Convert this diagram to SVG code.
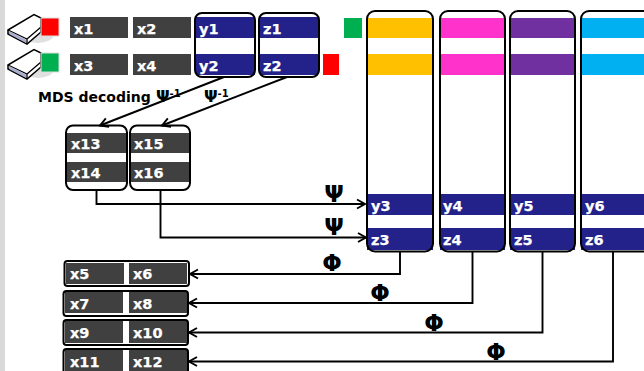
<svg xmlns="http://www.w3.org/2000/svg" width="644" height="371" viewBox="0 0 644 371">
<style>
text{font-family:"DejaVu Sans","Liberation Sans",sans-serif;font-weight:700}
.l{font-size:14.500px;fill:#fff;stroke:#fff;stroke-width:.25}
.g{fill:#404040}
.b{fill:#22228a}
.f{fill:none;stroke:#000;stroke-width:2}
.c{fill:none;stroke:#000;stroke-width:1.900}
.s{font-size:23px;fill:#000;text-anchor:middle}
.m{font-size:14px;fill:#000}
</style>
<defs>
<marker id="a" markerUnits="userSpaceOnUse" markerWidth="12" markerHeight="12" refX="10" refY="6" orient="auto"><path d="M2 1.500L10 6L2 10.500" fill="none" stroke="#000" stroke-width="1.900"/></marker>
<g id="dev"><ellipse cx="38" cy="34" rx="16" ry="9" fill="#d8d8d8" opacity=".8"/><path d="M8 30L34 14.500L41 18V32L27 44L8 34Z" fill="#fff" stroke="#000" stroke-width="1.500"/><path d="M8 30L27 39L41 27M27 39V44" fill="none" stroke="#000" stroke-width="1.300"/><path d="M9 31L26 39.500V43L9 34Z" fill="#a9aed0"/></g>
</defs>
<rect width="5" height="371" fill="#d9d9d9"/>
<g id="disk1"><use href="#dev"/><rect x="41" y="18" width="18" height="18" fill="#f00" stroke="#ddd"/></g>
<g id="disk2"><use href="#dev" y="35"/><rect x="41" y="53" width="18" height="19" fill="#00b050" stroke="#ddd"/></g>
<g id="row-x"><rect class="g" x="70" y="17" width="58" height="21"/><text class="l" x="74" y="34">x1</text><rect class="g" x="133" y="17" width="58" height="21"/><text class="l" x="137" y="34">x2</text><rect class="g" x="70" y="54" width="58" height="21"/><text class="l" x="74" y="71">x3</text><rect class="g" x="133" y="54" width="58" height="21"/><text class="l" x="137" y="71">x4</text></g>
<g id="y12"><rect class="b" x="196" y="17" width="59" height="21"/><rect class="b" x="196" y="54" width="59" height="21"/><text class="l" x="199" y="34">y1</text><text class="l" x="199" y="71">y2</text><rect class="f" x="195" y="13" width="60" height="64" rx="7"/></g>
<g id="z12"><rect class="b" x="260" y="17" width="58" height="21"/><rect class="b" x="260" y="54" width="58" height="21"/><text class="l" x="263" y="34">z1</text><text class="l" x="263" y="71">z2</text><rect class="f" x="259" y="13" width="60" height="64" rx="7"/></g>
<g id="red"><rect x="323" y="54" width="16" height="21" fill="#f00"/></g>
<g id="green"><rect x="344" y="18" width="18" height="20" fill="#00b050"/></g>
<g id="col1"><rect x="367" y="18" width="66" height="20" fill="#ffc000"/><rect x="367" y="54" width="66" height="21" fill="#ffc000"/><rect class="b" x="367" y="194" width="66" height="21"/><rect class="b" x="367" y="228" width="66" height="22"/><text class="l" x="371" y="211">y3</text><text class="l" x="371" y="245">z3</text><rect class="f" x="367" y="11" width="66" height="240.500" rx="8"/></g>
<g id="col2"><rect x="440" y="18" width="65" height="20" fill="#ff33cc"/><rect x="440" y="54" width="65" height="21" fill="#ff33cc"/><rect class="b" x="440" y="194" width="65" height="21"/><rect class="b" x="440" y="228" width="65" height="22"/><text class="l" x="443" y="211">y4</text><text class="l" x="443" y="245">z4</text><rect class="f" x="440" y="11" width="65" height="240.500" rx="8"/></g>
<g id="col3"><rect x="510" y="18" width="65" height="20" fill="#7030a0"/><rect x="510" y="54" width="65" height="21" fill="#7030a0"/><rect class="b" x="510" y="194" width="65" height="21"/><rect class="b" x="510" y="228" width="65" height="22"/><text class="l" x="514" y="211">y5</text><text class="l" x="514" y="245">z5</text><rect class="f" x="510" y="11" width="65" height="240.500" rx="8"/></g>
<g id="col4"><rect x="581" y="18" width="63" height="20" fill="#00b0f0"/><rect x="581" y="54" width="63" height="21" fill="#00b0f0"/><rect class="b" x="581" y="194" width="63" height="21"/><rect class="b" x="581" y="228" width="63" height="22"/><text class="l" x="585" y="211">y6</text><text class="l" x="585" y="245">z6</text><rect class="f" x="581" y="11" width="70" height="240.500" rx="8"/></g>
<g id="x1314"><rect class="g" x="67" y="133" width="59" height="20"/><rect class="g" x="67" y="162" width="59" height="20"/><text class="l" x="71" y="149">x13</text><text class="l" x="71" y="178">x14</text><rect class="f" x="66" y="125.500" width="61" height="64.500" rx="7"/></g>
<g id="x1516"><rect class="g" x="131" y="133" width="58" height="20"/><rect class="g" x="131" y="162" width="58" height="20"/><text class="l" x="134" y="149">x15</text><text class="l" x="134" y="178">x16</text><rect class="f" x="130" y="125.500" width="60" height="64.500" rx="7"/></g>
<g id="x56"><rect class="g" x="66" y="263" width="58" height="21"/><rect class="g" x="129" y="263" width="58" height="21"/><text class="l" x="70" y="279">x5</text><text class="l" x="133" y="279">x6</text><rect class="f" x="64.500" y="261" width="124.500" height="25" rx="3"/></g>
<g id="x78"><rect class="g" x="65" y="292" width="58" height="21"/><rect class="g" x="129" y="292" width="58" height="21"/><text class="l" x="70" y="309">x7</text><text class="l" x="133" y="309">x8</text><rect class="f" x="63.500" y="291" width="124.500" height="25" rx="3"/></g>
<g id="x910"><rect class="g" x="65" y="321" width="58" height="22"/><rect class="g" x="129" y="321" width="58" height="22"/><text class="l" x="70" y="338">x9</text><text class="l" x="133" y="338">x10</text><rect class="f" x="63.500" y="320" width="124.500" height="25" rx="3"/></g>
<g id="x1112"><rect class="g" x="65" y="350" width="58" height="23"/><rect class="g" x="129" y="350" width="58" height="23"/><text class="l" x="70" y="367">x11</text><text class="l" x="133" y="367">x12</text><rect class="f" x="63.500" y="349" width="124.500" height="26" rx="3"/></g>
<g id="connectors">
<path class="c" d="M224 77L100 125.500" marker-end="url(#a)"/>
<path class="c" d="M287 77L162 125.500" marker-end="url(#a)"/>
<path class="c" d="M96.500 190V204H365" marker-end="url(#a)"/>
<path class="c" d="M160.500 190V237.500H366" marker-end="url(#a)"/>
<path class="c" d="M400 252V274H190" marker-end="url(#a)"/>
<path class="c" d="M472.500 252V303H189" marker-end="url(#a)"/>
<path class="c" d="M542.500 252V332.500H189" marker-end="url(#a)"/>
<path class="c" d="M613 252V361.500H189" marker-end="url(#a)"/>
</g>
<g id="labels">
<text class="m" x="38" y="102">MDS decoding</text>
<text class="m" x="156" y="102" font-size="16" style="font-size:16px">Ψ<tspan style="font-size:10px" dy="-5">-1</tspan></text>
<text class="m" x="204" y="102" style="font-size:16px">Ψ<tspan style="font-size:10px" dy="-5">-1</tspan></text>
<text class="s" x="334" y="202">Ψ</text>
<text class="s" x="334" y="235">Ψ</text>
<text class="s" x="332" y="271">Φ</text>
<text class="s" x="380" y="301">Φ</text>
<text class="s" x="434" y="331">Φ</text>
<text class="s" x="496" y="360">Φ</text>
</g>
</svg>
